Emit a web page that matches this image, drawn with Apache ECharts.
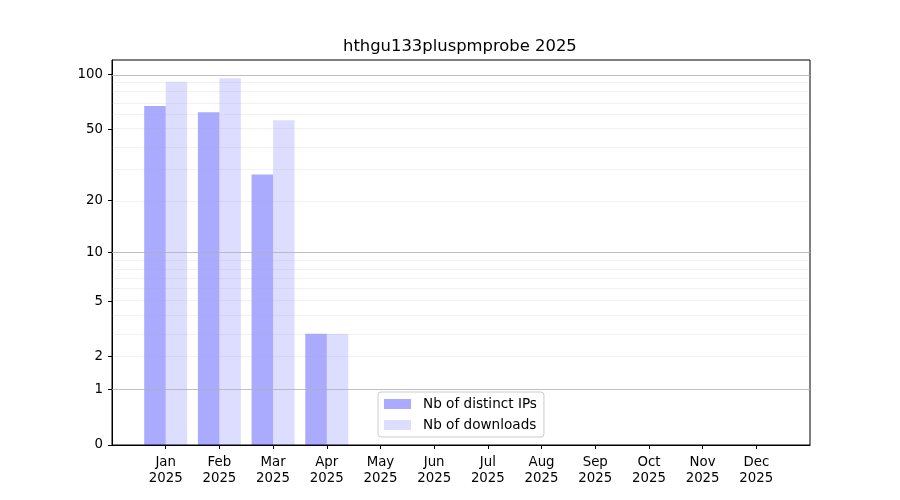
<!DOCTYPE html>
<html>
<head>
<meta charset="utf-8">
<script src="https://cdn.jsdelivr.net/npm/echarts@6/dist/echarts.min.js"></script>
<style>html,body{margin:0;padding:0;background:#fff;}#c{width:900px;height:500px;}</style>
</head>
<body>
<div id="c"></div>
<script>
const months = ['Jan','Feb','Mar','Apr','May','Jun','Jul','Aug','Sep','Oct','Nov','Dec'];
const yearLabel = '2025';
const titleText = 'hthgu133pluspmprobe 2025';
const distinctIPs = [67, 62, 28, 3];
const downloads = [91, 95, 56, 3];
const yTickValues = [0, 1, 2, 5, 10, 20, 50, 100];
const majorGrid = [1, 10, 100];
const minorGrid = [2, 3, 4, 5, 6, 7, 8, 9, 20, 30, 40, 50, 60, 70, 80, 90];

const f = v => Math.log10(1 + v);
const fInv = t => Math.pow(10, t) - 1;
const font = 'DejaVu Sans';
const maxVal = Math.max(...distinctIPs, ...downloads);
const yMax = f(maxVal) * 1.05;

const chart = echarts.init(document.getElementById('c'), null, {renderer: 'canvas'});
const gridLines = majorGrid.map(v => ({yAxis: f(v), lineStyle: {color: '#b0b0b0', type: 'solid', width: 1, opacity: 0.8}}))
  .concat(minorGrid.map(v => ({yAxis: f(v), lineStyle: {color: '#b0b0b0', type: 'solid', width: 0.8, opacity: 0.22}})));

chart.setOption({
  animation: false,
  backgroundColor: '#fff',
  graphic: [{
    type: 'text', left: 461 - 118, top: 39, z: 10,
    style: {text: titleText, font: '16.4px "DejaVu Sans"', fill: '#000'}
  }],
  grid: {left: 112, right: 90, top: 60, bottom: 55, show: true, borderColor: '#000', borderWidth: 1, backgroundColor: 'transparent'},
  legend: {
    orient: 'vertical', left: 378, top: 392,
    padding: [4, 7, 4, 6], itemGap: 5, itemWidth: 27, itemHeight: 10,
    icon: 'rect',
    backgroundColor: '#fff', borderColor: '#cccccc', borderWidth: 1, borderRadius: 3,
    textStyle: {fontFamily: font, fontSize: 13.6, color: '#000', lineHeight: 16, padding: [0, 0, 0, 7]},
    data: ['Nb of distinct IPs', 'Nb of downloads']
  },
  xAxis: {
    type: 'value', min: -1, max: 12, interval: 1,
    axisLine: {show: true, onZero: false, lineStyle: {color: '#000'}},
    axisTick: {show: true, length: 4, lineStyle: {color: '#000'}, customValues: months.map((m, i) => i)},
    axisLabel: {
      customValues: months.map((m, i) => i),
      fontFamily: font, fontSize: 13.33, color: '#000', lineHeight: 16, margin: 10,
      formatter: v => (months[v] !== undefined ? months[v] + '\n' + yearLabel : '')
    },
    splitLine: {show: false}
  },
  yAxis: {
    type: 'value', min: 0, max: yMax,
    axisLine: {show: true, onZero: false, lineStyle: {color: '#000'}},
    axisTick: {show: true, length: 4, lineStyle: {color: '#000'}, customValues: yTickValues.map(f)},
    axisLabel: {
      customValues: yTickValues.map(f),
      fontFamily: font, fontSize: 13.33, color: '#000', margin: 9,
      formatter: v => String(Math.round(fInv(v)))
    },
    splitLine: {show: false}
  },
  series: [
    {
      name: 'Nb of distinct IPs', type: 'bar', barWidth: 21.5, barGap: '0%',
      itemStyle: {color: 'rgba(0,0,255,0.333)'},
      data: distinctIPs.map((v, i) => [i, f(v)]),
      z: 2
    },
    {
      name: 'Nb of downloads', type: 'bar', barWidth: 21.5, barGap: '0%',
      itemStyle: {color: 'rgba(0,0,255,0.133)'},
      data: downloads.map((v, i) => [i, f(v)]),
      markLine: {silent: true, symbol: 'none', label: {show: false}, animation: false, data: gridLines},
      z: 3
    }
  ]
});
</script>
</body>
</html>
